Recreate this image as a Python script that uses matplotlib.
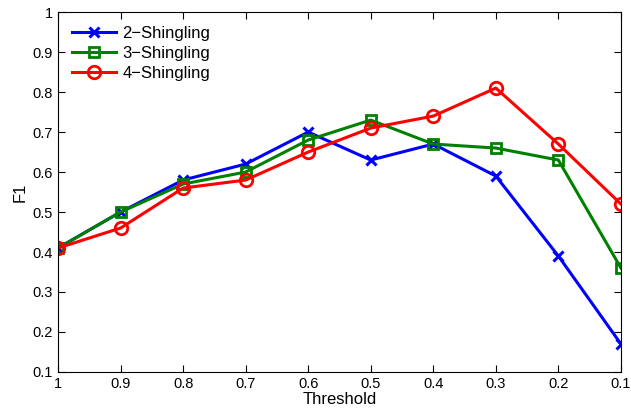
import numpy as np
import matplotlib
matplotlib.use("Agg")
import matplotlib.pyplot as plt

plt.rcParams['font.family'] = ['Liberation Sans', 'DejaVu Sans']

thresholds = [1.0, 0.9, 0.8, 0.7, 0.6, 0.5, 0.4, 0.3, 0.2, 0.1]
shingle2 = [0.41, 0.50, 0.58, 0.62, 0.70, 0.63, 0.67, 0.59, 0.39, 0.17]
shingle3 = [0.41, 0.50, 0.57, 0.60, 0.68, 0.73, 0.67, 0.66, 0.63, 0.36]
shingle4 = [0.41, 0.46, 0.56, 0.58, 0.65, 0.71, 0.74, 0.81, 0.67, 0.52]
labels = ['2\u2212Shingling', '3\u2212Shingling', '4\u2212Shingling']

fig = plt.figure(figsize=(6.31, 4.17), dpi=100)
ax = fig.add_axes([0.092, 0.108, 0.892, 0.863])

ax.plot(thresholds, shingle2, color='#0000ff', lw=2.2, marker='x', ms=7, mew=2.2, label=labels[0])
ax.plot(thresholds, shingle3, color='#008000', lw=2.2, marker='s', ms=7, mew=2, mfc='none', label=labels[1])
ax.plot(thresholds, shingle4, color='#ff0000', lw=2.2, marker='o', ms=9, mew=2, mfc='none', label=labels[2])

ax.set_xlim(1, 0.1)
ax.set_ylim(0.1, 1)
ax.set_xticks(thresholds)
ax.set_xticklabels(['1', '0.9', '0.8', '0.7', '0.6', '0.5', '0.4', '0.3', '0.2', '0.1'])
ax.set_yticks(np.arange(1, 11) / 10)
ax.set_yticklabels(['0.1', '0.2', '0.3', '0.4', '0.5', '0.6', '0.7', '0.8', '0.9', '1'])
ax.tick_params(direction='in', top=True, right=True, labelsize=10.5, length=5)
ax.set_xlabel('Threshold', fontsize=12, labelpad=1)
ax.set_ylabel('F1', fontsize=12)

leg = ax.legend(loc='upper left', frameon=False, fontsize=12, handlelength=2.6,
                borderaxespad=0.45, labelspacing=0.3, handletextpad=0.4)

fig.savefig('out.png', dpi=100)
